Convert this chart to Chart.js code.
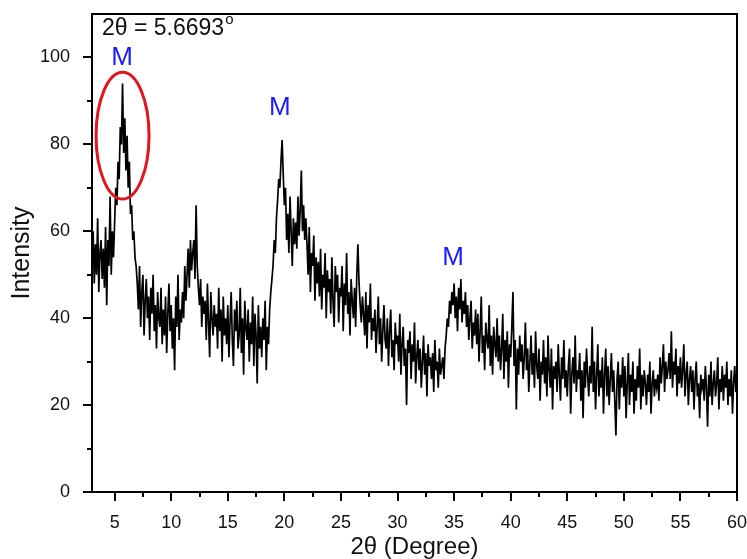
<!DOCTYPE html>
<html>
<head>
<meta charset="utf-8">
<script src="https://cdn.jsdelivr.net/npm/chart.js@4.4.0/dist/chart.umd.min.js"></script>
<style>
  html, body { margin: 0; padding: 0; background: #fff; }
</style>
</head>
<body>
<canvas id="xrdChart" width="747" height="559"></canvas>
<script>
// scan grid: 3.0 .. 60.0 deg, 0.1 deg apart
const startAngle = 3.0;
const angleStep = 0.1;

// intensity, one row per degree (x.0 .. x.9)
const intensity = [
    52, 60, 48, 57, 50, 63, 46, 55, 58, 49,   // 3
    56, 47, 61, 43, 58, 52, 68, 50, 60, 54,   // 4
    62, 70, 66, 76, 72, 84, 80, 94, 78, 86,   // 5
    74, 82, 70, 76, 64, 66, 58, 60, 54, 52,   // 6
    48, 42, 52, 38, 46, 50, 36, 44, 49, 40,   // 7
    45, 35, 47, 41, 50, 37, 43, 33, 46, 40,   // 8
    38, 47, 34, 42, 36, 45, 32, 41, 48, 37,   // 9
    43, 33, 40, 28, 45, 38, 50, 35, 42, 39,   // 10
    46, 40, 52, 44, 50, 56, 47, 58, 51, 55,   // 11
    58, 49, 66, 52, 47, 43, 49, 38, 45, 41,   // 12
    44, 35, 48, 39, 31, 46, 40, 36, 43, 38,   // 13
    41, 33, 47, 37, 42, 30, 45, 36, 40, 34,   // 14
    43, 31, 39, 46, 35, 29, 42, 37, 44, 33,   // 15
    36, 47, 32, 40, 27, 44, 38, 35, 42, 30,   // 16
    39, 34, 45, 29, 41, 36, 25, 43, 33, 38,   // 17
    31, 40, 35, 44, 28, 38, 34, 42, 46, 49,   // 18
    52, 58, 55, 63, 67, 72, 70, 76, 81, 73,   // 19
    66, 70, 58, 64, 55, 68, 60, 52, 63, 57,   // 20
    62, 56, 68, 59, 65, 74, 60, 66, 58, 63,   // 21
    57, 50, 61, 46, 55, 52, 59, 44, 54, 48,   // 22
    53, 45, 56, 42, 50, 47, 55, 40, 51, 46,   // 23
    49, 41, 54, 44, 38, 52, 46, 50, 39, 47,   // 24
    45, 52, 37, 48, 43, 55, 41, 46, 36, 49,   // 25
    44, 40, 47, 38, 50, 57, 48, 43, 39, 45,   // 26
    41, 36, 46, 33, 43, 39, 48, 35, 40, 37,   // 27
    42, 32, 38, 45, 34, 40, 30, 37, 43, 35,   // 28
    33, 40, 29, 37, 42, 31, 35, 28, 39, 34,   // 29
    36, 30, 41, 27, 34, 38, 29, 33, 20, 35,   // 30
    32, 37, 26, 34, 30, 39, 25, 31, 35, 28,   // 31
    33, 24, 30, 36, 27, 32, 22, 34, 29, 31,   // 32
    26, 32, 23, 35, 28, 30, 24, 33, 27, 29,   // 33
    31, 26, 33, 36, 40, 38, 44, 41, 46, 43,   // 34
    48, 40, 45, 37, 47, 42, 49, 39, 44, 41,   // 35
    46, 38, 43, 35, 40, 44, 33, 39, 36, 42,   // 36
    34, 41, 30, 37, 45, 32, 36, 28, 39, 35,   // 37
    33, 43, 29, 36, 27, 38, 34, 31, 40, 30,   // 38
    36, 28, 33, 41, 26, 35, 30, 37, 24, 34,   // 39
    31, 38, 46, 29, 35, 19, 33, 27, 36, 30,   // 40
    34, 26, 31, 39, 28, 33, 23, 30, 36, 27,   // 41
    32, 24, 37, 29, 26, 33, 21, 30, 27, 35,   // 42
    25, 31, 22, 36, 28, 24, 33, 19, 29, 26,   // 43
    30, 23, 34, 27, 21, 31, 26, 35, 24, 28,   // 44
    22, 29, 33, 18, 27, 31, 25, 36, 23, 28,   // 45
    26, 32, 21, 28, 17, 30, 24, 33, 27, 22,   // 46
    29, 25, 38, 23, 30, 19, 27, 34, 22, 28,   // 47
    24, 31, 18, 27, 33, 22, 29, 20, 26, 32,   // 48
    23, 28, 21, 13, 26, 30, 19, 27, 24, 31,   // 49
    22, 29, 17, 25, 32, 20, 27, 23, 30, 18,   // 50
    26, 21, 29, 24, 33, 19, 27, 22, 28, 25,   // 51
    20, 27, 23, 30, 18, 25, 28, 22, 26, 24,   // 52
    27, 21, 31, 25, 29, 34, 23, 30, 26, 28,   // 53
    32, 26, 37, 24, 30, 27, 33, 22, 29, 25,   // 54
    31, 24, 28, 34, 22, 27, 30, 20, 26, 29,   // 55
    23, 28, 19, 26, 30, 22, 25, 17, 27, 24,   // 56
    26, 21, 29, 24, 15, 27, 22, 30, 20, 25,   // 57
    28, 22, 25, 31, 19, 26, 23, 29, 21, 27,   // 58
    24, 30, 20, 26, 22, 28, 18, 25, 29, 23,   // 59
    25                                        // 60
];

const xTicks = [5, 10, 15, 20, 25, 30, 35, 40, 45, 50, 55, 60];
const xMinorTicks = [2.5, 7.5, 12.5, 17.5, 22.5, 27.5, 32.5, 37.5, 42.5, 47.5, 52.5, 57.5];
const yTicks = [0, 20, 40, 60, 80, 100];
const yMinorTicks = [10, 30, 50, 70, 90];

// "M" peak marks (in data units)
const peakMarks = [
    { x: 5.65, y: 100, text: 'M' },
    { x: 19.6, y: 88.5, text: 'M' },
    { x: 34.9, y: 53.8, text: 'M' }
];
const highlight = { x: 5.7, y: 82, rx: 2.34, ry: 14.6 };
const peakNote = '2θ = 5.6693';

const font = "'Liberation Sans', Arial, Helvetica, sans-serif";

const points = intensity.map((v, i) => ({ x: +(startAngle + i * angleStep).toFixed(1), y: v }));

const extras = {
    id: 'extras',
    afterDraw(chart) {
        const ctx = chart.ctx;
        const xs = chart.scales.x, ys = chart.scales.y;
        const a = chart.chartArea;
        ctx.save();

        // frame
        ctx.strokeStyle = '#000';
        ctx.lineWidth = 2;
        ctx.strokeRect(a.left, a.top, a.right - a.left, a.bottom - a.top);

        // tick marks, pointing out
        ctx.beginPath();
        xTicks.forEach(v => {
            let px = Math.round(xs.getPixelForValue(v));
            ctx.moveTo(px, a.bottom); ctx.lineTo(px, a.bottom + 9);
        });
        xMinorTicks.forEach(v => {
            if (v < xs.min) return;
            let px = Math.round(xs.getPixelForValue(v));
            ctx.moveTo(px, a.bottom); ctx.lineTo(px, a.bottom + 5);
        });
        yTicks.forEach(v => {
            let py = Math.round(ys.getPixelForValue(v));
            ctx.moveTo(a.left, py); ctx.lineTo(a.left - 9, py);
        });
        yMinorTicks.forEach(v => {
            let py = Math.round(ys.getPixelForValue(v));
            ctx.moveTo(a.left, py); ctx.lineTo(a.left - 5, py);
        });
        ctx.stroke();

        // red ellipse round the first peak
        ctx.strokeStyle = '#e3161d';
        ctx.lineWidth = 3;
        let cx = xs.getPixelForValue(highlight.x);
        let cy = ys.getPixelForValue(highlight.y);
        let rx = xs.getPixelForValue(highlight.x + highlight.rx) - cx;
        let ry = cy - ys.getPixelForValue(highlight.y + highlight.ry);
        ctx.beginPath();
        ctx.ellipse(cx, cy, rx, ry, 0, 0, Math.PI * 2);
        ctx.stroke();

        // M marks
        ctx.fillStyle = '#1a1aff';
        ctx.font = '26px ' + font;
        ctx.textAlign = 'center';
        ctx.textBaseline = 'middle';
        peakMarks.forEach(m => {
            ctx.fillText(m.text, xs.getPixelForValue(m.x), ys.getPixelForValue(m.y));
        });

        // peak position note
        ctx.fillStyle = '#111';
        ctx.textAlign = 'left';
        ctx.textBaseline = 'alphabetic';
        ctx.font = '23px ' + font;
        ctx.fillText(peakNote, a.left + 10, a.top + 21);
        let w = ctx.measureText(peakNote).width;
        ctx.font = '15px ' + font;
        ctx.fillText('o', a.left + 10 + w + 1, a.top + 10);
        ctx.restore();
    }
};

new Chart('xrdChart', {
    type: 'line',
    data: {
        datasets: [{
            data: points,
            borderColor: '#000',
            borderWidth: 1.7,
            pointRadius: 0,
            tension: 0,
            fill: false
        }]
    },
    options: {
        responsive: false,
        animation: false,
        layout: { padding: { left: 0, top: 14, right: 10, bottom: 0 } },
        plugins: { legend: { display: false }, tooltip: { enabled: false } },
        scales: {
            x: {
                type: 'linear',
                min: 3,
                max: 60,
                afterBuildTicks: s => { s.ticks = xTicks.map(v => ({ value: v })); },
                afterFit: s => { s.height = 67; s.paddingLeft = 0; s.paddingRight = 0; },
                grid: { display: false },
                border: { display: false },
                ticks: { color: '#111', font: { family: font, size: 18 }, padding: 12, maxRotation: 0, autoSkip: false },
                title: { display: true, text: '2θ (Degree)', color: '#111', font: { family: font, size: 24, lineHeight: 1 }, padding: 0 }
            },
            y: {
                min: 0,
                max: 110,
                afterBuildTicks: s => { s.ticks = yTicks.map(v => ({ value: v })); },
                afterFit: s => { s.width = 92; s.paddingTop = 0; s.paddingBottom = 0; },
                grid: { display: false },
                border: { display: false },
                ticks: { color: '#111', font: { family: font, size: 18 }, padding: 14 },
                title: { display: true, text: 'Intensity', color: '#111', font: { family: font, size: 25 }, padding: { top: 7, bottom: 0 } }
            }
        }
    },
    plugins: [extras]
});
</script>
</body>
</html>
